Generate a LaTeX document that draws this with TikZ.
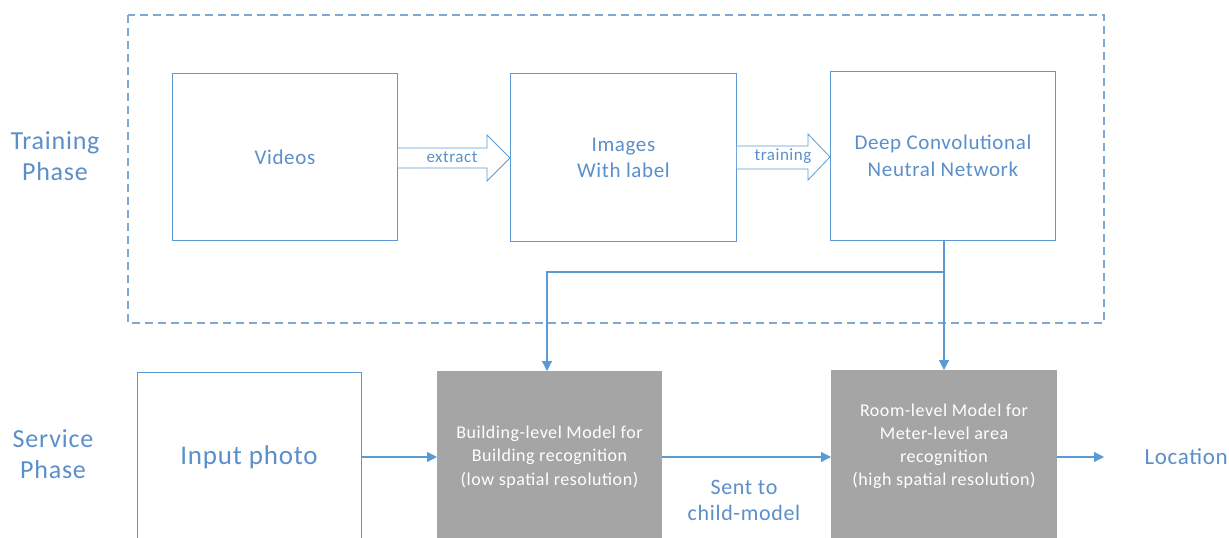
\documentclass[tikz,border=0pt]{standalone}
\usepackage{fontspec}
\setmainfont{Carlito}[LetterSpace=3]
\usetikzlibrary{calc,arrows.meta}
\definecolor{ablue}{HTML}{5B9BD5}
\definecolor{tblue}{HTML}{5B8FCB}
\definecolor{dblue}{HTML}{7FA8D2}
\definecolor{gbox}{HTML}{A5A5A5}
\tikzset{
  wbox/.style={draw=ablue, line width=0.9pt, fill=white, inner sep=0pt},
  gboxs/.style={fill=gbox, draw=none, inner sep=0pt},
  conn/.style={draw=ablue, line width=1.2pt, -{Triangle[length=10pt,width=10pt]}},
  lbl/.style={text=tblue, align=center},
  blockarrow/.style={draw=ablue, line width=0.8pt, fill=white},
}
\begin{document}
\begin{tikzpicture}[x=1pt,y=-1pt]
\useasboundingbox (0,0) rectangle (1229,538);
\fill[white] (0,0) rectangle (1229,538);
% dashed training frame
\draw[dblue, line width=1.1pt, dash pattern=on 8pt off 5pt] (128,15) rectangle (1104,323);
\node[lbl, font=\fontsize{26}{31}\selectfont] (tp) at (55,156) {Training\\Phase};
\node[lbl, font=\fontsize{26}{31}\selectfont] (sp) at (53,454) {Service\\Phase};
% training boxes
\node[wbox, minimum width=225pt, minimum height=167pt, anchor=north west] (videos) at (172,73) {};
\node[lbl, font=\fontsize{21}{26}\selectfont] at (videos.center) {Videos};
\node[wbox, minimum width=226pt, minimum height=168pt, anchor=north west] (images) at (510,73) {};
\node[lbl, font=\fontsize{21}{26}\selectfont] at (images.center) {Images\\With label};
\node[wbox, minimum width=225pt, minimum height=169pt, anchor=north west] (dcnn) at (830,71) {};
\node[lbl, font=\fontsize{21}{27}\selectfont] at (dcnn.center) {Deep Convolutional\\Neutral Network};
% block arrows
\draw[blockarrow] (videos.east |- 0,148) -- (487,148) -- (487,135) -- (images.west |- 0,158) -- (487,181) -- (487,168) -- (videos.east |- 0,168);
\node[lbl, font=\fontsize{17}{20}\selectfont] (ex) at (452,157) {extract};
\draw[blockarrow] (images.east |- 0,146) -- (808,146) -- (808,134) -- (dcnn.west |- 0,157) -- (808,180) -- (808,169) -- (images.east |- 0,169);
\node[lbl, font=\fontsize{17}{20}\selectfont] (tr) at (783,156) {training};
% service boxes
\node[wbox, minimum width=224pt, minimum height=175pt, anchor=north west] (input) at (137,372) {};
\node[lbl, font=\fontsize{27}{32}\selectfont] at (249,457) {Input photo};
\node[gboxs, minimum width=225pt, minimum height=175pt, anchor=north west] (bld) at (437,371) {};
\node[text=white, align=center, font=\fontsize{18}{23.5}\selectfont] at (549.5,457) {Building-level Model for\\Building recognition\\(low spatial resolution)};
\node[gboxs, minimum width=226pt, minimum height=175pt, anchor=north west] (room) at (831,370) {};
\node[text=white, align=center, font=\fontsize{18}{23}\selectfont] at (944,446.5) {Room-level Model for\\Meter-level area\\recognition\\(high spatial resolution)};
\coordinate (loc) at (1104,457);
\node[lbl, font=\fontsize{23}{26}\selectfont, anchor=west] (location) at (1141,457) {Location};
\node[lbl, font=\fontsize{22}{26}\selectfont] (sent) at (744,500) {Sent to\\child-model};
% connectors
\draw[conn] (input.east |- 0,457) -- (bld.west |- 0,457);
\draw[conn] (bld.east |- 0,457) -- (room.west |- 0,457);
\draw[conn] (room.east |- 0,457) -- (loc);
\coordinate (br) at (944,272);
\draw[conn] (dcnn.south -| 944,0) -- (room.north -| 944,0);
\draw[conn] (br) -- (547,272) -- (bld.north -| 547,0);
\end{tikzpicture}
\end{document}
